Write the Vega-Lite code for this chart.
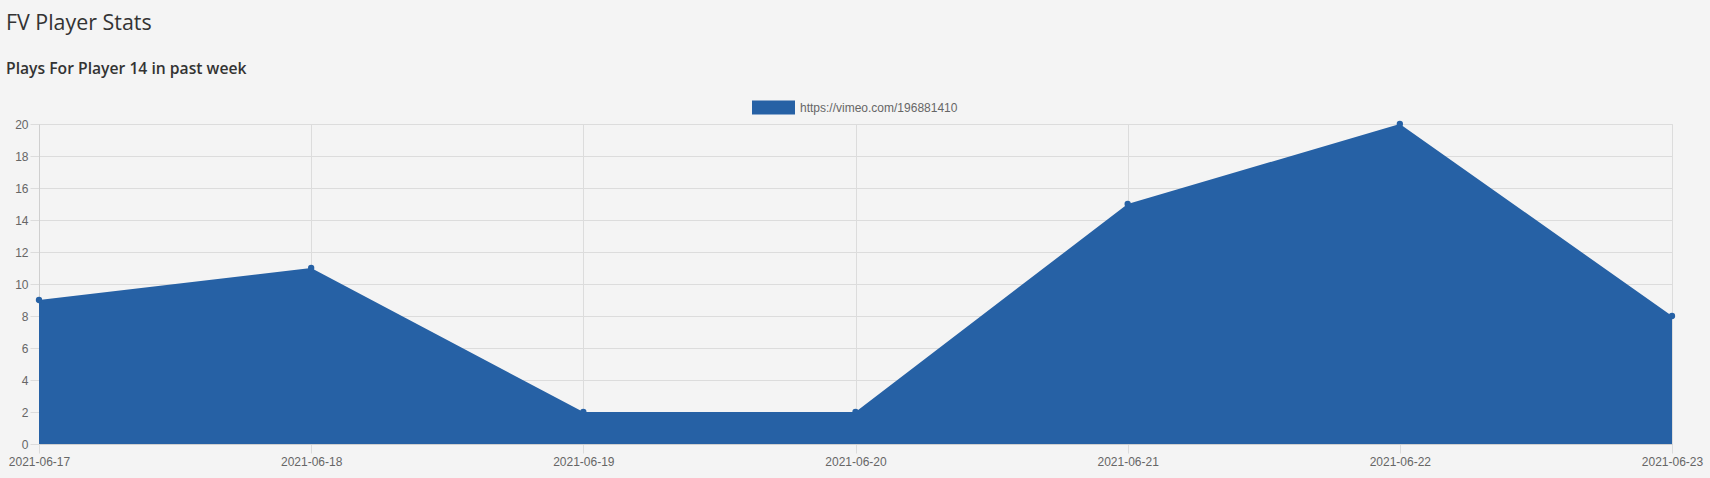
{
  "$schema": "https://vega.github.io/schema/vega-lite/v6.json",
  "width": 1633,
  "height": 320,
  "autosize": {"type": "none"},
  "padding": {"left": 39, "top": 124, "right": 38, "bottom": 34},
  "background": "#f4f4f4",
  "title": {
    "text": "FV Player Stats",
    "subtitle": "Plays For Player 14 in past week",
    "anchor": "start",
    "frame": "group",
    "dx": -33,
    "offset": 9,
    "font": "Open Sans",
    "fontSize": 21.4,
    "fontWeight": 400,
    "color": "#333333",
    "subtitleFont": "Open Sans",
    "subtitleFontSize": 15.7,
    "subtitleFontWeight": 600,
    "subtitleColor": "#333333",
    "subtitlePadding": 28
  },
  "data": {
    "values": [
      {"date": "2021-06-17", "plays": 9, "url": "https://vimeo.com/196881410"},
      {"date": "2021-06-18", "plays": 11, "url": "https://vimeo.com/196881410"},
      {"date": "2021-06-19", "plays": 2, "url": "https://vimeo.com/196881410"},
      {"date": "2021-06-20", "plays": 2, "url": "https://vimeo.com/196881410"},
      {"date": "2021-06-21", "plays": 15, "url": "https://vimeo.com/196881410"},
      {"date": "2021-06-22", "plays": 20, "url": "https://vimeo.com/196881410"},
      {"date": "2021-06-23", "plays": 8, "url": "https://vimeo.com/196881410"}
    ]
  },
  "encoding": {
    "x": {
      "field": "date",
      "type": "ordinal",
      "scale": {"type": "point", "padding": 0},
      "axis": {
        "title": null,
        "labelAngle": 0,
        "grid": true,
        "gridColor": "#dcdcdc",
        "domainColor": "#cfcfcf",
        "tickColor": "#dcdcdc",
        "tickSize": 9,
        "labelPadding": 3,
        "labelFont": "Liberation Sans",
        "labelFontSize": 12,
        "labelColor": "#666666"
      }
    },
    "y": {
      "field": "plays",
      "type": "quantitative",
      "scale": {"domain": [0, 20], "nice": false},
      "axis": {
        "title": null,
        "values": [0, 2, 4, 6, 8, 10, 12, 14, 16, 18, 20],
        "grid": true,
        "gridColor": "#dcdcdc",
        "domainColor": "#cfcfcf",
        "tickColor": "#dcdcdc",
        "tickSize": 9,
        "labelPadding": 2,
        "labelFont": "Liberation Sans",
        "labelFontSize": 12,
        "labelColor": "#666666"
      }
    },
    "color": {
      "field": "url",
      "type": "nominal",
      "scale": {"range": ["#2661a5"]},
      "legend": {
        "title": null,
        "orient": "none",
        "legendX": 713,
        "legendY": -38,
        "symbolType": "M-1,-0.33H1V0.33H-1Z",
        "symbolSize": 1849,
        "symbolStrokeWidth": 0,
        "symbolOpacity": 1,
        "labelFont": "Liberation Sans",
        "labelFontSize": 12,
        "labelColor": "#666666",
        "labelOffset": 5
      }
    }
  },
  "layer": [
    {"mark": {"type": "area", "opacity": 1, "line": false}},
    {"mark": {"type": "point", "filled": true, "size": 40, "opacity": 1}}
  ]
}
